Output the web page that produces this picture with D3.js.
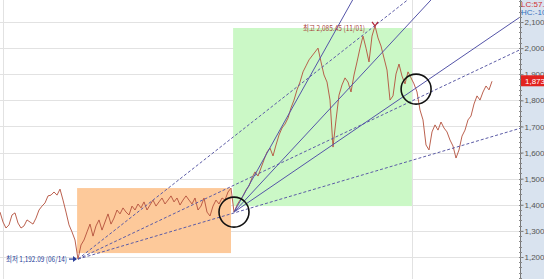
<!DOCTYPE html>
<html>
<head>
<meta charset="utf-8">
<script src="https://cdn.jsdelivr.net/npm/d3@7"></script>
<style>
  html, body { margin: 0; padding: 0; background: #fff; overflow: hidden; }
  svg { display: block; font-family: "Noto Sans CJK KR", "Liberation Sans", sans-serif; }
</style>
</head>
<body>
<div id="chart"></div>
<script>
// daily close, one value per step (index 0..164)
var closes = [
  1372,1334,1311,1323,1361,1369,1330,1311,1319,1342,
  1334,1326,1349,1380,1395,1407,1434,1437,1449,1437,
  1460,1418,1372,1323,1296,1265,1192,1246,1265,1296,
  1326,1280,1319,1342,1303,1334,1365,1326,1349,1380,
  1365,1388,1372,1361,1395,1380,1403,1388,1411,1380,
  1399,1418,1395,1411,1426,1403,1418,1434,1411,1426,
  1399,1418,1434,1418,1403,1426,1380,1395,1426,1372,
  1357,1395,1418,1403,1426,1418,1449,1464,1372,1399,
  1418,1434,1457,1472,1503,1526,1510,1541,1572,1602,
  1617,1587,1629,1667,1694,1709,1732,1771,1801,1840,
  1870,1909,1932,1955,1970,1985,2000,1947,1897,1870,
  1801,1621,1725,1820,1859,1886,1870,1832,1897,1947,
  2000,2046,2000,1947,2046,2085,2039,2008,1962,1916,
  1801,1817,1901,1939,1893,1863,1909,1886,1863,1832,
  1763,1725,1629,1610,1679,1706,1686,1717,1694,1679,
  1648,1625,1579,1610,1663,1686,1725,1740,1786,1817,
  1801,1832,1855,1840,1873
];
var yTicks = [1200,1300,1400,1500,1600,1700,1800,1900,2000,2100];

// trend lines: [startIndex, startValue, throughIndex, throughValue]
var dashedLines = [
  [26,1192, 85,1725],
  [26,1192, 164,1943],
  [26,1192, 164,1661]
];
var solidLines = [
  [78,1372, 100,1824],
  [78,1372, 110,1768],
  [78,1372, 138,1842]
];
// boxes: [fromIndex, toIndex, lowValue, highValue]
var orangeBox = [25.7, 77, 1215, 1464];
var greenBox = [77.7, 137.3, 1395, 2077];
// highlighted turning points: [index, value]
var circles = [[78,1372],[138.7,1843]];
var lowPoint = [26,1192], highPoint = [125,2085];
var lowLabel = "최저 1,192.09 (06/14)", highLabel = "최고 2,085.45 (11/01)";
var lastValue = 1873;

var W = 544, H = 279, axisX = 520;

var svg = d3.select("#chart").append("svg")
  .attr("width", W).attr("height", H);

var x = d3.scaleLinear().domain([0, 164]).range([0, 492]);
var y = d3.scaleLinear().domain([1200, 2100]).range([257, 22]);

svg.append("clipPath").attr("id", "plot")
  .append("rect").attr("x", 0).attr("y", 0).attr("width", axisX).attr("height", H);

var plot = svg.append("g").attr("clip-path", "url(#plot)");

// grid
plot.selectAll("line.grid").data(yTicks).enter().append("line")
  .attr("class", "grid")
  .attr("x1", 0).attr("x2", axisX)
  .attr("y1", function(d){ return Math.round(y(d)) + 0.5; })
  .attr("y2", function(d){ return Math.round(y(d)) + 0.5; })
  .style("stroke", "#e2e2e2");
plot.append("line")
  .attr("x1", 3.5).attr("x2", 3.5).attr("y1", 0).attr("y2", H)
  .style("stroke", "#e2e2e2");
plot.append("line")
  .attr("x1", Math.round(x(greenBox[1])) + 0.5).attr("x2", Math.round(x(greenBox[1])) + 0.5)
  .attr("y1", 0).attr("y2", H)
  .style("stroke", "#e2e2e2");

// boxes
function box(b, fill){
  plot.append("rect")
    .attr("x", x(b[0])).attr("y", y(b[3]))
    .attr("width", x(b[1]) - x(b[0]))
    .attr("height", y(b[2]) - y(b[3]))
    .style("fill", fill);
}
box(orangeBox, "#fdc99a");
box(greenBox, "#cbf8c6");

// price
var line = d3.line()
  .x(function(d, i){ return x(i); })
  .y(function(d){ return y(d); });
plot.append("path").datum(closes)
  .attr("d", line)
  .style("fill", "none")
  .style("stroke", "#b4503c")
  .style("stroke-width", 1)
  .style("opacity", 0.9);

// trend lines, extended to the axis
function trend(t){
  var slope = (t[3] - t[1]) / (t[2] - t[0]);
  var xEnd = x.invert(axisX);
  return [[t[0], t[1]], [xEnd, t[1] + slope * (xEnd - t[0])]];
}
plot.selectAll("line.dash").data(dashedLines.map(trend)).enter().append("line")
  .attr("class", "dash")
  .attr("x1", function(d){ return x(d[0][0]); }).attr("y1", function(d){ return y(d[0][1]); })
  .attr("x2", function(d){ return x(d[1][0]); }).attr("y2", function(d){ return y(d[1][1]); })
  .style("stroke", "#5c5ca6").style("stroke-width", 1)
  .style("stroke-dasharray", "3,2");
plot.selectAll("line.solid").data(solidLines.map(trend)).enter().append("line")
  .attr("class", "solid")
  .attr("x1", function(d){ return x(d[0][0]); }).attr("y1", function(d){ return y(d[0][1]); })
  .attr("x2", function(d){ return x(d[1][0]); }).attr("y2", function(d){ return y(d[1][1]); })
  .style("stroke", "#5454a8").style("stroke-width", 1);

// circles
plot.selectAll("circle.mark").data(circles).enter().append("circle")
  .attr("class", "mark")
  .attr("cx", function(d){ return x(d[0]); })
  .attr("cy", function(d){ return y(d[1]); })
  .attr("r", 15)
  .style("fill", "none").style("stroke", "#111").style("stroke-width", 1.6);

// low / high labels
var lx = x(lowPoint[0]), ly = y(lowPoint[1]);
plot.append("line")
  .attr("x1", lx - 9).attr("x2", lx - 2).attr("y1", ly).attr("y2", ly)
  .style("stroke", "#2a3f9a").style("stroke-width", 1.2);
plot.append("path")
  .attr("d", "M" + (lx - 1) + "," + ly + "l-4,-3v6z")
  .style("fill", "#2a3f9a");
plot.append("text")
  .attr("x", lx - 11).attr("y", ly + 3)
  .attr("text-anchor", "end")
  .attr("textLength", 61).attr("lengthAdjust", "spacingAndGlyphs")
  .style("font-size", "8px").style("fill", "#2a3f9a")
  .text(lowLabel);

var hx = x(highPoint[0]), hy = y(highPoint[1]);
plot.append("path")
  .attr("d", "M" + (hx - 3) + "," + (hy - 4) + "L" + hx + "," + hy + "L" + (hx + 3) + "," + (hy - 4))
  .style("fill", "none").style("stroke", "#b4283c").style("stroke-width", 1.2);
plot.append("text")
  .attr("x", hx - 10).attr("y", hy + 5)
  .attr("text-anchor", "end")
  .attr("textLength", 62).attr("lengthAdjust", "spacingAndGlyphs")
  .style("font-size", "8px").style("fill", "#a8433a")
  .text(highLabel);

// right axis panel
svg.append("rect")
  .attr("x", axisX).attr("y", 0).attr("width", W - axisX).attr("height", H)
  .style("fill", "#d9e3ef");
var axis = d3.axisRight(y)
  .tickValues(yTicks)
  .tickSize(3)
  .tickFormat(function(d){ return d3.format(",.1f")(d); });
var ag = svg.append("g").attr("transform", "translate(" + (axisX + 0.5) + ",0)").call(axis);
ag.select(".domain").attr("d", "M0,0V" + H).style("stroke", "#777");
ag.selectAll(".tick line").style("stroke", "#777");
ag.selectAll(".tick text")
  .attr("x", 4)
  .style("font-size", "8px").style("fill", "#555")
  .style("font-family", "'Liberation Sans', sans-serif");
// minor ticks
svg.append("g").selectAll("line").data(d3.range(1100, 2200, 20)).enter().append("line")
  .attr("x1", axisX - 1).attr("x2", axisX + 2)
  .attr("y1", function(d){ return Math.round(y(d)) + 0.5; })
  .attr("y2", function(d){ return Math.round(y(d)) + 0.5; })
  .style("stroke", "#888");

// last value tag
svg.append("rect")
  .attr("x", axisX + 1).attr("y", y(lastValue) - 6)
  .attr("width", W - axisX).attr("height", 11)
  .style("fill", "#e2231f");
svg.append("text")
  .attr("x", axisX + 5).attr("y", y(lastValue) + 3)
  .style("font-size", "8px").style("fill", "#fff")
  .style("font-family", "'Liberation Sans', sans-serif")
  .text(d3.format(",.1f")(lastValue));

// indicator header
svg.append("text").attr("x", axisX + 1).attr("y", 7)
  .style("font-size", "8px").style("fill", "#d03030")
  .style("font-family", "'Liberation Sans', sans-serif")
  .text("LC:57.1");
svg.append("text").attr("x", axisX + 1).attr("y", 15)
  .style("font-size", "8px").style("fill", "#3070c0")
  .style("font-family", "'Liberation Sans', sans-serif")
  .text("HC:-10.");
</script>
</body>
</html>
